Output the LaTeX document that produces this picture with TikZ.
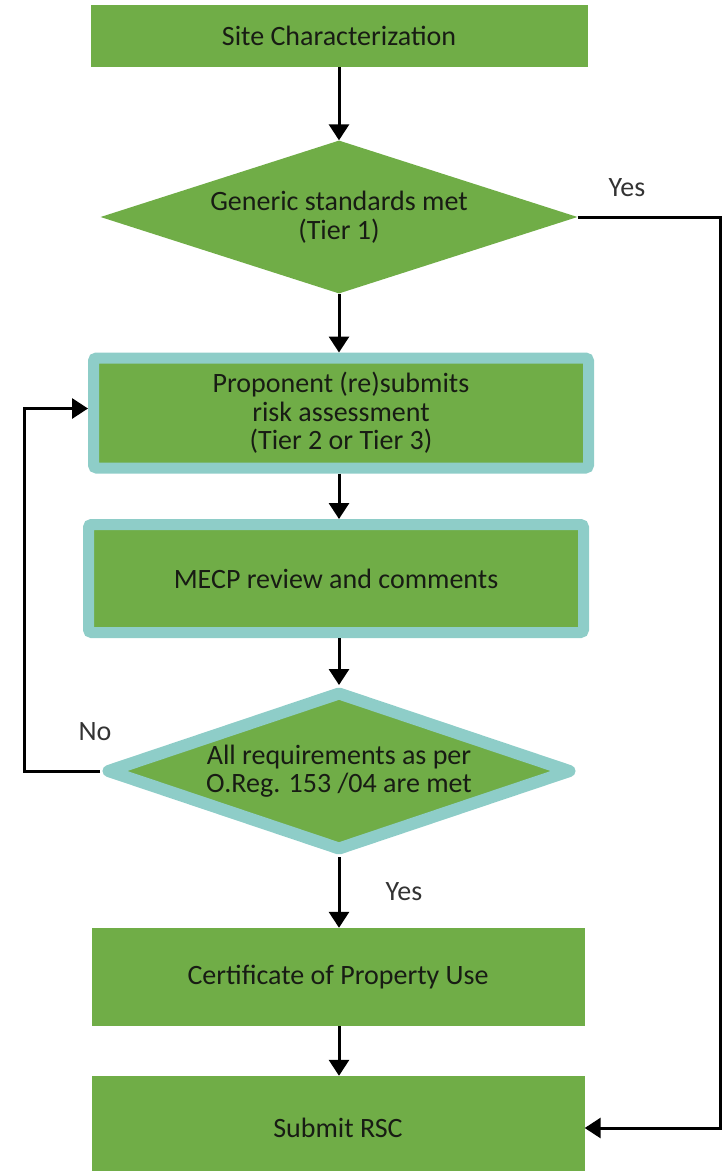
\documentclass[tikz,border=0pt]{standalone}
\usepackage{fontspec}
\setmainfont{Carlito}
\usetikzlibrary{shapes.geometric,arrows.meta}
\definecolor{boxgreen}{RGB}{112,173,71}
\definecolor{rimteal}{RGB}{142,205,200}
\definecolor{inktext}{RGB}{24,28,20}

\begin{document}
\begin{tikzpicture}[x=1pt,y=-1pt,
  font=\fontsize{28}{28.5}\selectfont,
  stepbox/.style={rectangle,fill=boxgreen,text=inktext,align=center,inner sep=0pt},
  rimbox/.style={stepbox,draw=rimteal,line width=11pt,rounded corners=3pt},
  testbox/.style={diamond,fill=boxgreen,text=inktext,align=center,inner sep=0pt,aspect=3},
  flow/.style={line width=3pt,-{Triangle[width=20pt,length=16pt]}},
  answer/.style={text=black!80}]

\useasboundingbox (0,0) rectangle (726,1171);

% Steps
\node[stepbox,minimum width=497pt,minimum height=62pt] (site) at (339,36)
{Site Characterization};

\node[testbox,minimum width=477pt,minimum height=153pt] (generic) at (339,217)
{Generic standards met\\(Tier 1)};

\node[rimbox,minimum width=495pt,minimum height=110pt] (propose) at (341,413)
{Proponent (re)submits\\risk assessment\\(Tier 2 or Tier 3)};

\node[rimbox,minimum width=495pt,minimum height=108pt] (review) at (336,578.5)
{MECP review and comments};

\node[testbox,draw=rimteal,line width=12pt,line join=round,
  minimum width=466pt,minimum height=160pt] (regmet) at (339,771)
{All requirements as per\\O.Reg. 153 /04 are met};

\node[stepbox,minimum width=493pt,minimum height=98pt] (cpu) at (338,977)
{Certificate of Property Use};

\node[stepbox,minimum width=493pt,minimum height=104pt] (rsc) at (338,1128)
{Submit RSC};

% Main flow
\draw[flow] (site.south -| generic.north) -- (generic.north);
\draw[flow] (generic.south) -- (generic.south |- propose.north);
\draw[flow] (propose.south -| generic.south) -- (generic.south |- review.north);
\draw[flow] (review.south -| generic.south) -- (regmet.north);
\draw[flow] (regmet.south) -- (regmet.south |- cpu.north);
\draw[flow] (cpu.south -| regmet.south) -- (regmet.south |- rsc.north);

% Loops
\coordinate (yesbend) at (720,217);
\draw[flow] (generic.east) -- (yesbend) |- (rsc.east);

\coordinate (nobend) at (24,771);
\draw[flow] (regmet.west) -- (nobend) |- ([yshift=4.5pt]propose.west);

% Answers
\node[answer] (yestop) at (627,188) {Yes};
\node[answer] (yesdown) at (404,892) {Yes};
\node[answer] (noleft) at (95,732) {No};

\end{tikzpicture}
\end{document}
